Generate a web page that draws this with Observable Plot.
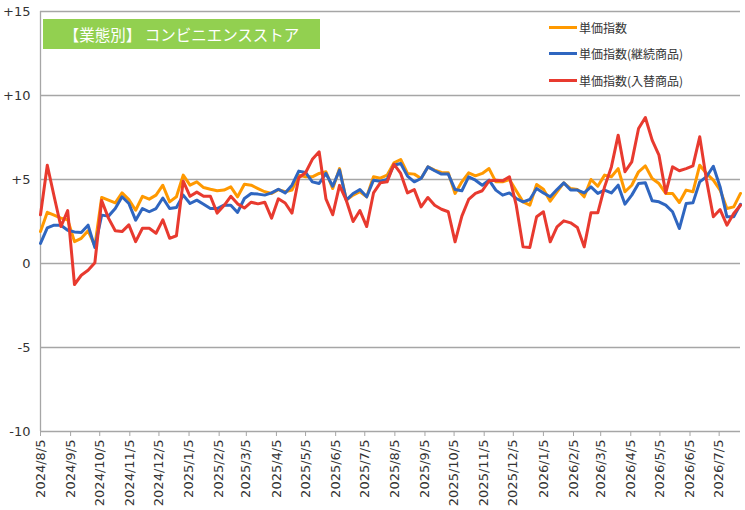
<!DOCTYPE html>
<html>
<head>
<meta charset="utf-8">
<script src="https://cdn.jsdelivr.net/npm/d3@7"></script>
<script src="https://cdn.jsdelivr.net/npm/@observablehq/plot@0.6"></script>
<style>
  body { margin: 0; background: #fff; }
  #wrap { position: relative; width: 745px; height: 510px; }
  #title { position: absolute; left: 43px; top: 19px; width: 277px; height: 30px; background: #92D050;
    color: #fff; font-family: "Noto Sans CJK JP", sans-serif; font-size: 15.5px; line-height: 30px; text-align: center; }
  .lg { position: absolute; left: 549px; height: 16px; display: flex; align-items: center;
    font-family: "Noto Sans CJK JP", sans-serif; font-size: 12px; color: #333; }
  .lg span.sw { display: inline-block; width: 28px; height: 3px; margin-right: 2px; }
</style>
</head>
<body>
<div id="wrap"></div>
<script>
const titleText = "【業態別】 コンビニエンスストア";
const seriesNames = ["単価指数", "単価指数(継続商品)", "単価指数(入替商品)"];
const seriesColors = ["#FF9900", "#2F66C0", "#E83A2F"];
const startDate = "2024/8/5";
const weekCount = 104;
const yTicks = [-10, -5, 0, 5, 10, 15];
const xTickLabels = ["2024/8/5","2024/9/5","2024/10/5","2024/11/5","2024/12/5","2025/1/5","2025/2/5","2025/3/5","2025/4/5","2025/5/5","2025/6/5","2025/7/5","2025/8/5","2025/9/5","2025/10/5","2025/11/5","2025/12/5","2026/1/5","2026/2/5","2026/3/5","2026/4/5","2026/5/5","2026/6/5","2026/7/5"];

const unitPrice = [1.9,3.05,2.88,2.7,2.6,1.3,1.5,1.95,1.05,3.93,3.77,3.61,4.2,3.8,3.17,4.0,3.83,4.07,4.66,3.67,3.97,5.26,4.66,4.86,4.52,4.42,4.33,4.37,4.56,3.97,4.72,4.66,4.46,4.27,4.17,4.4,4.27,4.37,5.26,5.16,5.16,5.36,5.46,4.46,5.65,3.77,4.07,4.27,3.97,5.16,5.08,5.26,5.99,6.19,5.36,5.32,5.06,5.75,5.56,5.42,5.4,4.17,4.86,5.4,5.22,5.36,5.65,4.86,4.86,5.0,4.33,3.67,3.47,4.7,4.42,3.71,4.27,4.8,4.46,4.4,3.97,5.0,4.6,5.26,5.16,5.65,4.27,4.66,5.46,5.81,5.06,4.76,4.17,4.17,3.63,4.37,4.27,5.85,5.36,4.96,4.37,3.27,3.37,4.17];
const continuing = [1.2,2.12,2.28,2.28,1.98,1.88,1.85,2.28,0.95,2.88,2.82,3.27,3.97,3.57,2.58,3.27,3.08,3.27,3.9,3.27,3.33,4.07,3.57,3.77,3.53,3.27,3.27,3.47,3.47,3.04,3.87,4.17,4.13,4.07,4.2,4.42,4.2,4.66,5.5,5.42,4.86,4.76,5.36,4.6,5.56,3.77,4.17,4.4,3.97,4.96,4.9,5.0,5.85,5.95,5.2,4.86,5.06,5.75,5.52,5.32,5.32,4.4,4.33,5.16,4.96,4.66,4.96,4.37,4.07,4.2,3.87,3.67,3.81,4.46,4.2,3.97,4.4,4.8,4.37,4.37,4.2,4.56,4.17,4.37,4.2,4.66,3.53,4.07,4.76,4.8,3.73,3.67,3.47,3.08,2.08,3.57,3.61,4.86,5.16,5.79,4.56,2.78,2.78,3.53];
const replaced = [2.9,5.85,4.0,2.2,3.15,-1.25,-0.7,-0.4,0.05,3.75,2.7,1.95,1.9,2.3,1.3,2.1,2.1,1.8,2.6,1.5,1.65,4.9,4.0,4.25,4.0,4.0,3.0,3.45,4.0,3.55,3.3,3.65,3.55,3.65,2.7,3.85,3.6,3.0,5.1,5.4,6.2,6.65,3.85,2.9,4.65,3.75,2.5,3.15,2.2,4.2,4.8,4.86,5.91,5.36,4.2,4.4,3.37,3.93,3.47,3.23,3.08,1.29,2.82,3.81,4.17,4.33,4.92,4.96,4.92,5.16,3.47,0.99,0.95,2.78,3.08,1.29,2.18,2.54,2.42,2.14,0.99,3.02,3.02,4.56,5.75,7.64,5.46,6.05,8.04,8.69,7.34,6.45,4.2,5.75,5.52,5.65,5.81,7.54,4.96,2.78,3.21,2.28,2.98,3.47];

const parse = d3.utcParse("%Y/%m/%d");
const start = parse(startDate);
const dates = d3.range(weekCount).map(i => d3.utcDay.offset(start, 7 * i));
const xTicks = xTickLabels.map(parse);
const allSeries = [unitPrice, continuing, replaced];
const rows = allSeries.flatMap((vals, s) => vals.map((v, i) => ({date: dates[i], value: v, series: seriesNames[s]})));

const chart = Plot.plot({
  width: 745,
  height: 510,
  marginLeft: 40,
  marginRight: 5,
  marginTop: 11,
  marginBottom: 79,
  style: {fontFamily: "DejaVu Sans, Verdana, sans-serif", fontSize: "13px", color: "#333", background: "#fff"},
  x: {type: "utc", domain: [dates[0], dates[dates.length - 1]], label: null},
  y: {domain: [yTicks[0], yTicks[yTicks.length - 1]], label: null},
  color: {domain: seriesNames, range: seriesColors},
  marks: [
    Plot.gridY(yTicks, {stroke: "#a6a6a6", strokeOpacity: 1, strokeWidth: 1.3}),
    Plot.ruleX([dates[0]], {stroke: "#a6a6a6", strokeWidth: 1.3}),
    Plot.axisY(yTicks, {tickSize: 0, tickPadding: 10, fontSize: 13, label: null, tickFormat: d => d > 0 ? "+" + d : String(d)}),
    Plot.axisX(xTicks, {tickSize: 5, tickPadding: 3, tickRotate: -90, fontSize: 13, label: null, stroke: "#a6a6a6", tickFormat: (d, i) => xTickLabels[i]}),
    ...seriesNames.map(name => Plot.lineY(rows.filter(r => r.series === name), {
      x: "date", y: "value", stroke: "series", strokeWidth: 3, strokeLinejoin: "round"
    }))
  ]
});

const wrap = document.getElementById("wrap");
wrap.appendChild(chart);
const t = document.createElement("div");
t.id = "title";
t.textContent = titleText;
wrap.appendChild(t);
const legendTops = [19, 45, 72];
seriesNames.forEach((name, i) => {
  const d = document.createElement("div");
  d.className = "lg";
  d.style.top = legendTops[i] + "px";
  const sw = document.createElement("span");
  sw.className = "sw";
  sw.style.background = seriesColors[i];
  d.appendChild(sw);
  const tx = document.createElement("span");
  tx.textContent = name;
  d.appendChild(tx);
  wrap.appendChild(d);
});
</script>
</body>
</html>
